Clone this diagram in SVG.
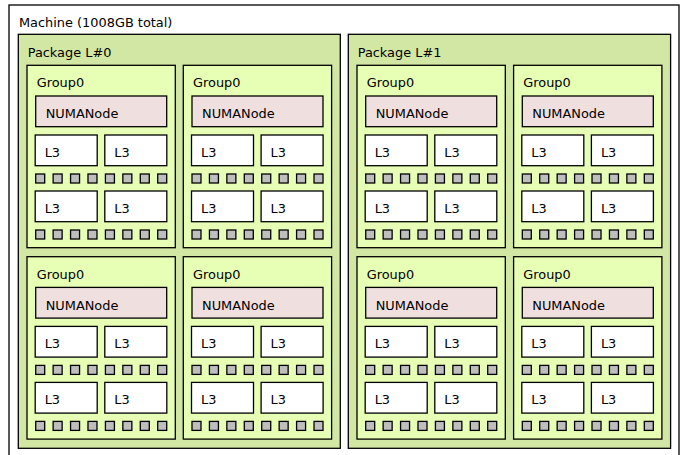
<svg xmlns="http://www.w3.org/2000/svg" xmlns:xlink="http://www.w3.org/1999/xlink" width="686" height="455" viewBox="0 0 686 455">
<style>
rect{stroke:#000;stroke-width:1.3}
.mach{fill:#ffffff}
.pkg{fill:#d2e7a4}
.grp{fill:#e7ffb5}
.numa{fill:#efdfde}
.l3{fill:#ffffff}
.core{fill:#bebebe}
text{font-family:"DejaVu Sans","Liberation Sans",sans-serif;font-size:12.9px;fill:#000}
</style>
<defs>
<g id="cores">
<rect class="core" x="8.7" y="0" width="9" height="9"/>
<rect class="core" x="26.13" y="0" width="9" height="9"/>
<rect class="core" x="43.56" y="0" width="9" height="9"/>
<rect class="core" x="60.99" y="0" width="9" height="9"/>
<rect class="core" x="78.42" y="0" width="9" height="9"/>
<rect class="core" x="95.85" y="0" width="9" height="9"/>
<rect class="core" x="113.28" y="0" width="9" height="9"/>
<rect class="core" x="130.71" y="0" width="9" height="9"/>
</g>
</defs>
<g id="machine">
<rect class="mach" x="9" y="5" width="670" height="460"/>
<text x="19" y="26.5">Machine (1008GB total)</text>

<g id="package0">
<rect class="pkg" x="18.3" y="34.3" width="322" height="414"/>
<text x="27.7" y="56.7">Package L#0</text>

<g id="p0g0" transform="translate(27,65.3)">
<rect class="grp" x="0" y="0" width="148.3" height="182.4"/>
<text x="9.7" y="22">Group0</text>
<g id="p0g0numa"><rect class="numa" x="8.7" y="30.7" width="131" height="30.7"/><text x="18.7" y="53">NUMANode</text></g>
<g id="p0g0l3a"><rect class="l3" x="8.2" y="69.7" width="62" height="30.7"/><text x="17.7" y="91.4">L3</text></g>
<g id="p0g0l3b"><rect class="l3" x="77.8" y="69.7" width="62" height="30.7"/><text x="87.3" y="91.4">L3</text></g>
<use xlink:href="#cores" href="#cores" y="108.7"/>
<g id="p0g0l3c"><rect class="l3" x="8.2" y="125.7" width="62" height="30.7"/><text x="17.7" y="147.4">L3</text></g>
<g id="p0g0l3d"><rect class="l3" x="77.8" y="125.7" width="62" height="30.7"/><text x="87.3" y="147.4">L3</text></g>
<use xlink:href="#cores" href="#cores" y="164.7"/>
</g>

<g id="p0g1" transform="translate(183.3,65.3)">
<rect class="grp" x="0" y="0" width="148.3" height="182.4"/>
<text x="9.7" y="22">Group0</text>
<g id="p0g1numa"><rect class="numa" x="8.7" y="30.7" width="131" height="30.7"/><text x="18.7" y="53">NUMANode</text></g>
<g id="p0g1l3a"><rect class="l3" x="8.2" y="69.7" width="62" height="30.7"/><text x="17.7" y="91.4">L3</text></g>
<g id="p0g1l3b"><rect class="l3" x="77.8" y="69.7" width="62" height="30.7"/><text x="87.3" y="91.4">L3</text></g>
<use xlink:href="#cores" href="#cores" y="108.7"/>
<g id="p0g1l3c"><rect class="l3" x="8.2" y="125.7" width="62" height="30.7"/><text x="17.7" y="147.4">L3</text></g>
<g id="p0g1l3d"><rect class="l3" x="77.8" y="125.7" width="62" height="30.7"/><text x="87.3" y="147.4">L3</text></g>
<use xlink:href="#cores" href="#cores" y="164.7"/>
</g>

<g id="p0g2" transform="translate(27,256.7)">
<rect class="grp" x="0" y="0" width="148.3" height="182.4"/>
<text x="9.7" y="22">Group0</text>
<g id="p0g2numa"><rect class="numa" x="8.7" y="30.7" width="131" height="30.7"/><text x="18.7" y="53">NUMANode</text></g>
<g id="p0g2l3a"><rect class="l3" x="8.2" y="69.7" width="62" height="30.7"/><text x="17.7" y="91.4">L3</text></g>
<g id="p0g2l3b"><rect class="l3" x="77.8" y="69.7" width="62" height="30.7"/><text x="87.3" y="91.4">L3</text></g>
<use xlink:href="#cores" href="#cores" y="108.7"/>
<g id="p0g2l3c"><rect class="l3" x="8.2" y="125.7" width="62" height="30.7"/><text x="17.7" y="147.4">L3</text></g>
<g id="p0g2l3d"><rect class="l3" x="77.8" y="125.7" width="62" height="30.7"/><text x="87.3" y="147.4">L3</text></g>
<use xlink:href="#cores" href="#cores" y="164.7"/>
</g>

<g id="p0g3" transform="translate(183.3,256.7)">
<rect class="grp" x="0" y="0" width="148.3" height="182.4"/>
<text x="9.7" y="22">Group0</text>
<g id="p0g3numa"><rect class="numa" x="8.7" y="30.7" width="131" height="30.7"/><text x="18.7" y="53">NUMANode</text></g>
<g id="p0g3l3a"><rect class="l3" x="8.2" y="69.7" width="62" height="30.7"/><text x="17.7" y="91.4">L3</text></g>
<g id="p0g3l3b"><rect class="l3" x="77.8" y="69.7" width="62" height="30.7"/><text x="87.3" y="91.4">L3</text></g>
<use xlink:href="#cores" href="#cores" y="108.7"/>
<g id="p0g3l3c"><rect class="l3" x="8.2" y="125.7" width="62" height="30.7"/><text x="17.7" y="147.4">L3</text></g>
<g id="p0g3l3d"><rect class="l3" x="77.8" y="125.7" width="62" height="30.7"/><text x="87.3" y="147.4">L3</text></g>
<use xlink:href="#cores" href="#cores" y="164.7"/>
</g>
</g>

<g id="package1">
<rect class="pkg" x="348.3" y="34.3" width="322.3" height="414"/>
<text x="357.7" y="56.7">Package L#1</text>

<g id="p1g0" transform="translate(357,65.3)">
<rect class="grp" x="0" y="0" width="148.3" height="182.4"/>
<text x="9.7" y="22">Group0</text>
<g id="p1g0numa"><rect class="numa" x="8.7" y="30.7" width="131" height="30.7"/><text x="18.7" y="53">NUMANode</text></g>
<g id="p1g0l3a"><rect class="l3" x="8.2" y="69.7" width="62" height="30.7"/><text x="17.7" y="91.4">L3</text></g>
<g id="p1g0l3b"><rect class="l3" x="77.8" y="69.7" width="62" height="30.7"/><text x="87.3" y="91.4">L3</text></g>
<use xlink:href="#cores" href="#cores" y="108.7"/>
<g id="p1g0l3c"><rect class="l3" x="8.2" y="125.7" width="62" height="30.7"/><text x="17.7" y="147.4">L3</text></g>
<g id="p1g0l3d"><rect class="l3" x="77.8" y="125.7" width="62" height="30.7"/><text x="87.3" y="147.4">L3</text></g>
<use xlink:href="#cores" href="#cores" y="164.7"/>
</g>

<g id="p1g1" transform="translate(513.6,65.3)">
<rect class="grp" x="0" y="0" width="148.3" height="182.4"/>
<text x="9.7" y="22">Group0</text>
<g id="p1g1numa"><rect class="numa" x="8.7" y="30.7" width="131" height="30.7"/><text x="18.7" y="53">NUMANode</text></g>
<g id="p1g1l3a"><rect class="l3" x="8.2" y="69.7" width="62" height="30.7"/><text x="17.7" y="91.4">L3</text></g>
<g id="p1g1l3b"><rect class="l3" x="77.8" y="69.7" width="62" height="30.7"/><text x="87.3" y="91.4">L3</text></g>
<use xlink:href="#cores" href="#cores" y="108.7"/>
<g id="p1g1l3c"><rect class="l3" x="8.2" y="125.7" width="62" height="30.7"/><text x="17.7" y="147.4">L3</text></g>
<g id="p1g1l3d"><rect class="l3" x="77.8" y="125.7" width="62" height="30.7"/><text x="87.3" y="147.4">L3</text></g>
<use xlink:href="#cores" href="#cores" y="164.7"/>
</g>

<g id="p1g2" transform="translate(357,256.7)">
<rect class="grp" x="0" y="0" width="148.3" height="182.4"/>
<text x="9.7" y="22">Group0</text>
<g id="p1g2numa"><rect class="numa" x="8.7" y="30.7" width="131" height="30.7"/><text x="18.7" y="53">NUMANode</text></g>
<g id="p1g2l3a"><rect class="l3" x="8.2" y="69.7" width="62" height="30.7"/><text x="17.7" y="91.4">L3</text></g>
<g id="p1g2l3b"><rect class="l3" x="77.8" y="69.7" width="62" height="30.7"/><text x="87.3" y="91.4">L3</text></g>
<use xlink:href="#cores" href="#cores" y="108.7"/>
<g id="p1g2l3c"><rect class="l3" x="8.2" y="125.7" width="62" height="30.7"/><text x="17.7" y="147.4">L3</text></g>
<g id="p1g2l3d"><rect class="l3" x="77.8" y="125.7" width="62" height="30.7"/><text x="87.3" y="147.4">L3</text></g>
<use xlink:href="#cores" href="#cores" y="164.7"/>
</g>

<g id="p1g3" transform="translate(513.6,256.7)">
<rect class="grp" x="0" y="0" width="148.3" height="182.4"/>
<text x="9.7" y="22">Group0</text>
<g id="p1g3numa"><rect class="numa" x="8.7" y="30.7" width="131" height="30.7"/><text x="18.7" y="53">NUMANode</text></g>
<g id="p1g3l3a"><rect class="l3" x="8.2" y="69.7" width="62" height="30.7"/><text x="17.7" y="91.4">L3</text></g>
<g id="p1g3l3b"><rect class="l3" x="77.8" y="69.7" width="62" height="30.7"/><text x="87.3" y="91.4">L3</text></g>
<use xlink:href="#cores" href="#cores" y="108.7"/>
<g id="p1g3l3c"><rect class="l3" x="8.2" y="125.7" width="62" height="30.7"/><text x="17.7" y="147.4">L3</text></g>
<g id="p1g3l3d"><rect class="l3" x="77.8" y="125.7" width="62" height="30.7"/><text x="87.3" y="147.4">L3</text></g>
<use xlink:href="#cores" href="#cores" y="164.7"/>
</g>
</g>
</g>
</svg>
